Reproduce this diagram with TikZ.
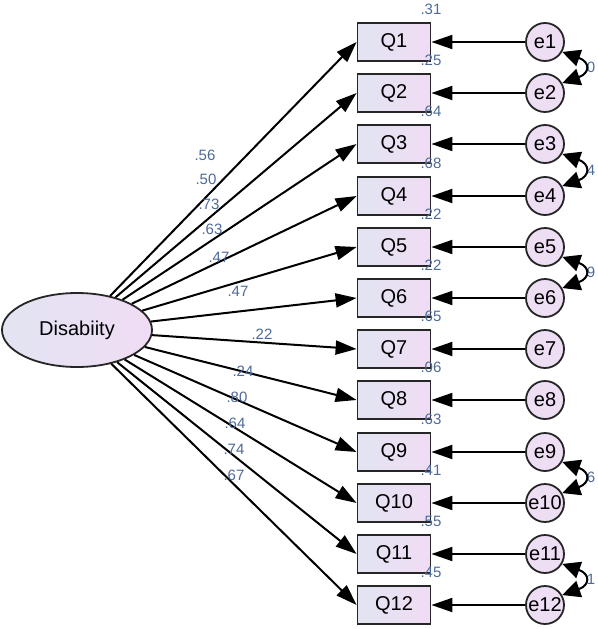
\documentclass[tikz,border=0pt]{standalone}
\usepackage{fontspec}
\setmainfont{Liberation Sans}
\usetikzlibrary{arrows.meta, shapes.geometric}
\definecolor{boxleft}{RGB}{226,228,242}
\definecolor{boxright}{RGB}{240,220,244}
\definecolor{errfill}{RGB}{238,222,244}
\definecolor{numblue}{RGB}{78,106,150}

\begin{document}
\begin{tikzpicture}[x=1pt,y=-1pt,
  item/.style={draw=black!85,line width=1.8pt,minimum width=73pt,minimum height=38pt,inner sep=0pt,
    left color=boxleft,right color=boxright,font=\fontsize{20}{20}\selectfont},
  err/.style={draw=black!85,circle,line width=1.8pt,minimum size=38pt,inner sep=0pt,
    fill=errfill,font=\fontsize{20}{20}\selectfont},
  latent/.style={draw=black!85,ellipse,line width=1.8pt,minimum width=150pt,minimum height=74pt,
    inner sep=0pt,left color=boxleft,right color=boxright,font=\fontsize{20}{20}\selectfont},
  coef/.style={text=numblue,inner sep=0pt,font=\fontsize{15}{15}\selectfont},
  load/.style={-{Triangle[length=21pt,width=14pt]},line width=2pt},
  cov/.style={{Triangle[length=18pt,width=17pt]}-{Triangle[length=18pt,width=17pt]},line width=2pt}]
\useasboundingbox (0,0) rectangle (597,629);

%latent variable
\node[latent] (dis) at (77,330) {Disabiity};

%observed items
\node[item] (q1) at (394,42) {Q1};
\node[item] (q2) at (394,93) {Q2};
\node[item] (q3) at (394,144) {Q3};
\node[item] (q4) at (394,196) {Q4};
\node[item] (q5) at (394,247) {Q5};
\node[item] (q6) at (394,298) {Q6};
\node[item] (q7) at (394,349) {Q7};
\node[item] (q8) at (394,400) {Q8};
\node[item] (q9) at (394,452) {Q9};
\node[item] (q10) at (394,503) {Q10};
\node[item] (q11) at (394,554) {Q11};
\node[item] (q12) at (394,605) {Q12};

%error terms
\node[err] (e1) at (545,42) {e1};
\node[err] (e2) at (545,93) {e2};
\node[err] (e3) at (545,144) {e3};
\node[err] (e4) at (545,196) {e4};
\node[err] (e5) at (545,247) {e5};
\node[err] (e6) at (545,298) {e6};
\node[err] (e7) at (545,349) {e7};
\node[err] (e8) at (545,400) {e8};
\node[err] (e9) at (545,452) {e9};
\node[err] (e10) at (545,503) {e10};
\node[err] (e11) at (545,554) {e11};
\node[err] (e12) at (545,605) {e12};

%loadings
\draw[load] (dis) -- (q1.west);
\draw[load] (dis) -- (q2.west);
\draw[load] (dis) -- (q3.west);
\draw[load] (dis) -- (q4.west);
\draw[load] (dis) -- (q5.west);
\draw[load] (dis) -- (q6.west);
\draw[load] (dis) -- (q7.west);
\draw[load] (dis) -- (q8.west);
\draw[load] (dis) -- (q9.west);
\draw[load] (dis) -- (q10.west);
\draw[load] (dis) -- (q11.west);
\draw[load] (dis) -- (q12.west);

\node[coef] (l1) at (205,155) {.56};
\node[coef] (l2) at (206,179) {.50};
\node[coef] (l3) at (209,204) {.73};
\node[coef] (l4) at (212,229) {.63};
\node[coef] (l5) at (219,257) {.47};
\node[coef] (l6) at (238,291) {.47};
\node[coef] (l7) at (262,334) {.22};
\node[coef] (l8) at (243,371) {.24};
\node[coef] (l9) at (237,397) {.80};
\node[coef] (l10) at (235,423) {.64};
\node[coef] (l11) at (234,449) {.74};
\node[coef] (l12) at (234,475) {.67};

%squared multiple correlations
\node[coef] (r1) at (431,9) {.31};
\node[coef] (r2) at (431,60) {.25};
\node[coef] (r3) at (431,111) {.64};
\node[coef] (r4) at (431,163) {.68};
\node[coef] (r5) at (431,214) {.22};
\node[coef] (r6) at (431,265) {.22};
\node[coef] (r7) at (431,316) {.65};
\node[coef] (r8) at (431,367) {.06};
\node[coef] (r9) at (431,419) {.63};
\node[coef] (r10) at (431,470) {.41};
\node[coef] (r11) at (431,521) {.55};
\node[coef] (r12) at (431,572) {.45};

%error paths
\draw[load] (e1) -- (q1);
\draw[load] (e2) -- (q2);
\draw[load] (e3) -- (q3);
\draw[load] (e4) -- (q4);
\draw[load] (e5) -- (q5);
\draw[load] (e6) -- (q6);
\draw[load] (e7) -- (q7);
\draw[load] (e8) -- (q8);
\draw[load] (e9) -- (q9);
\draw[load] (e10) -- (q10);
\draw[load] (e11) -- (q11);
\draw[load] (e12) -- (q12);

%covariances
\node[coef] (c1) at (591,67.5) {0};
\node[coef] (c2) at (591,170) {4};
\node[coef] (c3) at (591,272.5) {9};
\node[coef] (c4) at (591,477.5) {6};
\node[coef] (c5) at (591,579.5) {1};
\draw[cov] (e1.-30) .. controls +(28,10) and +(28,-10) .. (e2.30);
\draw[cov] (e3.-30) .. controls +(28,10) and +(28,-10) .. (e4.30);
\draw[cov] (e5.-30) .. controls +(28,10) and +(28,-10) .. (e6.30);
\draw[cov] (e9.-30) .. controls +(28,10) and +(28,-10) .. (e10.30);
\draw[cov] (e11.-30) .. controls +(28,10) and +(28,-10) .. (e12.30);

\end{tikzpicture}
\end{document}
